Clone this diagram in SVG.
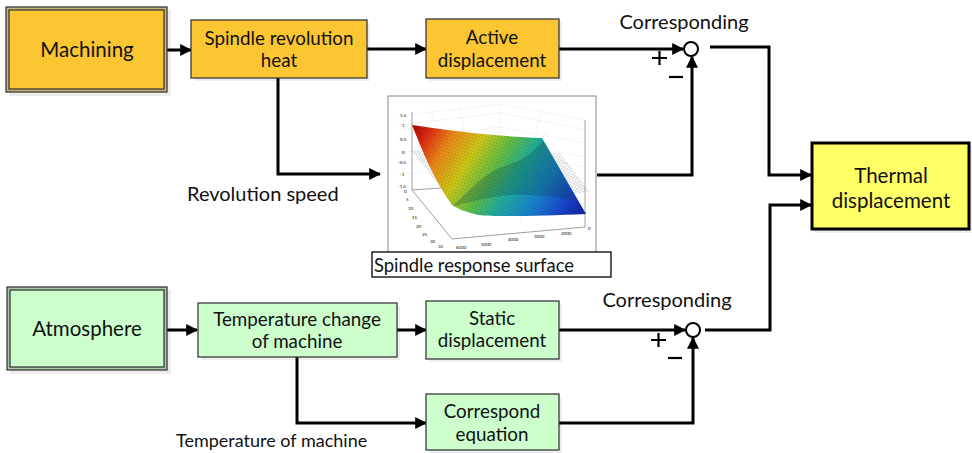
<svg xmlns="http://www.w3.org/2000/svg" width="972" height="453" viewBox="0 0 972 453">
  <defs>
    <style>
      text { font-family: "Lato", "Liberation Sans", sans-serif; fill: #111; }
      .t18 { font-size: 18.8px; text-anchor: middle; }
      .t20 { font-size: 20.5px; text-anchor: middle; }
      .lbl { font-size: 20px; }
      .cap { font-size: 18.4px; }
      .sm { font-size: 18px; }
      .orange { fill: #FCC633; stroke: #3a3a3a; stroke-width: 1.3; }
      .green { fill: #CCFFCC; stroke: #3a3a3a; stroke-width: 1.3; }
      .shadow { fill: #000; opacity: 0.07; }
      .wire { fill: none; stroke: #000; stroke-width: 3; }
      .arr { marker-end: url(#head); }
      .sum { fill: #fff; stroke: #000; stroke-width: 2; }
      .sign { stroke: #000; stroke-width: 2.2; }
      .tick { font-family: "Liberation Sans", sans-serif; font-size: 4.5px; fill: #555; }
      .grid { stroke: #c8c8c8; stroke-width: 0.5; stroke-dasharray: 1 1.5; fill: none; }
      .axis { stroke: #777; stroke-width: 0.7; fill: none; }
    </style>
    <marker id="head" viewBox="0 0 10 10" refX="9" refY="5" markerWidth="4" markerHeight="4" markerUnits="strokeWidth" orient="auto">
      <path d="M0,0 L10,5 L0,10 z" fill="#000"/>
    </marker>
    <linearGradient id="jet" x1="412" y1="120" x2="575" y2="222" gradientUnits="userSpaceOnUse">
      <stop offset="0" stop-color="#a00000"/>
      <stop offset="0.1" stop-color="#e02810"/>
      <stop offset="0.22" stop-color="#f08a18"/>
      <stop offset="0.36" stop-color="#d0cc18"/>
      <stop offset="0.5" stop-color="#60c048"/>
      <stop offset="0.62" stop-color="#20b0a0"/>
      <stop offset="0.76" stop-color="#1888d0"/>
      <stop offset="0.9" stop-color="#1848d0"/>
      <stop offset="1" stop-color="#1428a8"/>
    </linearGradient>
    <pattern id="mesh" width="3" height="3" patternUnits="userSpaceOnUse" patternTransform="rotate(18)">
      <path d="M0,0 H3 M0,0 V3" stroke="#000" stroke-width="0.4" opacity="0.4"/>
    </pattern>
    <pattern id="hatch" width="2.5" height="2.5" patternUnits="userSpaceOnUse" patternTransform="rotate(28)">
      <path d="M0,0 H2.5 M0,0 V2.5" stroke="#888" stroke-width="0.45"/>
    </pattern>
    <clipPath id="surfClip">
      <path d="M412,125 C440,129 485,136 542,138 L586,214 C540,216 495,217 478,215 C466,212 458,209 452,205 C434,180 422,150 412,125 z"/>
    </clipPath>
  </defs>

  <!-- connectors -->
  <g id="connectors">
    <path class="wire arr" d="M167,50 H191"/>
    <path class="wire arr" d="M367,49 H426"/>
    <path class="wire arr" d="M278,78 V174 H380"/>
    <path class="wire arr" d="M559,49 H683"/>
    <path class="wire arr" d="M597,175 H692 V57"/>
    <path class="wire arr" d="M710,47 H769 V175 H811"/>
    <path class="wire arr" d="M705,330 H770 V205 H811"/>
    <path class="wire arr" d="M167,330 H197"/>
    <path class="wire arr" d="M397,330 H426"/>
    <path class="wire arr" d="M297,357 V423 H426"/>
    <path class="wire arr" d="M559,330 H685"/>
    <path class="wire arr" d="M559,423 H693 V338"/>
  </g>

  <!-- upper chain -->
  <g id="machining">
    <rect class="shadow" x="9" y="10" width="162" height="86"/>
    <rect x="6" y="7" width="161" height="85" fill="#c9b377" stroke="#3a3a3a" stroke-width="1.3"/>
    <rect x="9" y="10" width="155" height="79" class="orange"/>
    <text class="t20" x="87" y="57">Machining</text>
  </g>

  <g id="spindle-heat">
    <rect class="shadow" x="194" y="23" width="176" height="58"/>
    <rect class="orange" x="191" y="20" width="176" height="58"/>
    <text class="t18" x="279" y="45">Spindle revolution</text>
    <text class="t18" x="279" y="67">heat</text>
  </g>

  <g id="active-displacement">
    <rect class="shadow" x="429" y="22" width="133" height="59"/>
    <rect class="orange" x="426" y="19" width="133" height="59"/>
    <text class="t18" x="492" y="44">Active</text>
    <text class="t18" x="492" y="67">displacement</text>
  </g>

  <g id="sum-upper">
    <text class="lbl" x="684" y="29" text-anchor="middle">Corresponding</text>
    <circle class="sum" cx="691" cy="49" r="7"/>
    <path class="sign" d="M652,58 H667 M659.5,51 V65"/>
    <path class="sign" d="M669,77 H683"/>
  </g>

  <!-- response surface plot -->
  <g id="response-surface">
    <rect x="388" y="96" width="208" height="165" fill="#fff" stroke="#9a9a9a" stroke-width="1.2"/>
    <!-- back walls -->
    <path class="grid" d="M398,116 L500,104 L584,120 M398,125 L500,113 L584,129 M398,139 L500,127 L584,143 M398,153 L500,141 L584,157 M398,163 L500,151 L584,167 M398,175 L500,163 L584,179"/>
    <path class="grid" d="M500,104 V190 M430,112 L470,200 M540,112 L520,222 M460,108 L480,210"/>
    <path class="axis" d="M412,112 V190 L452,239 L585,227 M412,190 L500,184 M585,227 V120"/>
    <!-- gray planes -->
    <polygon points="412,151 436,150 462,183 440,187" fill="url(#hatch)" opacity="0.9"/>
    <polygon points="540,154 560,153 590,192 570,194" fill="url(#hatch)" opacity="0.9"/>
    <!-- surface -->
    <g clip-path="url(#surfClip)">
      <rect x="405" y="118" width="190" height="105" fill="url(#jet)"/>
      <path d="M452,207 C470,190 485,172 505,166 C525,160 535,150 545,139 L575,200 C550,196 520,193 500,196 C480,199 465,203 452,207 z" fill="#0a3a40" opacity="0.25"/>
      <rect x="405" y="118" width="190" height="105" fill="url(#mesh)"/>
    </g>
    <!-- tick labels -->
    <g class="tick">
      <text x="400" y="117">1.5</text>
      <text x="402" y="127">1</text>
      <text x="400" y="141">0.5</text>
      <text x="402" y="154">0</text>
      <text x="398" y="164">-0.5</text>
      <text x="400" y="176">-1</text>
      <text x="398" y="188">-1.5</text>
      <text x="404" y="193">0</text>
      <text x="406" y="201">5</text>
      <text x="408" y="210">10</text>
      <text x="412" y="219">15</text>
      <text x="416" y="228">20</text>
      <text x="422" y="236">25</text>
      <text x="430" y="243">30</text>
      <text x="438" y="248">35</text>
      <text x="456" y="249">6000</text>
      <text x="481" y="246">5000</text>
      <text x="508" y="241">4000</text>
      <text x="534" y="238">3000</text>
      <text x="561" y="235">2000</text>
      <text x="588" y="230">0</text>
    </g>
  </g>

  <g id="surface-caption">
    <rect x="372" y="252" width="239" height="25" fill="#fff" stroke="#000" stroke-width="1.3"/>
    <text class="cap" x="374" y="272">Spindle response surface</text>
  </g>

  <text class="lbl" x="187" y="201">Revolution speed</text>

  <g id="thermal-displacement">
    <rect class="shadow" x="815" y="146" width="157" height="87"/>
    <rect x="812" y="143" width="157" height="86" fill="#FFFF66" stroke="#000" stroke-width="3"/>
    <text class="t20" x="891" y="183">Thermal</text>
    <text class="t20" x="891" y="208">displacement</text>
  </g>

  <!-- lower chain -->
  <g id="atmosphere">
    <rect class="shadow" x="10" y="290" width="161" height="84"/>
    <rect x="7" y="287" width="160" height="83" fill="#a8c8a8" stroke="#3a3a3a" stroke-width="1.3"/>
    <rect x="10" y="290" width="154" height="77" class="green"/>
    <text class="t20" x="87" y="336">Atmosphere</text>
  </g>

  <g id="temperature-change">
    <rect class="shadow" x="201" y="306" width="199" height="54"/>
    <rect class="green" x="198" y="303" width="199" height="54"/>
    <text class="t18" x="297" y="326">Temperature change</text>
    <text class="t18" x="297" y="348">of machine</text>
  </g>

  <g id="static-displacement">
    <rect class="shadow" x="429" y="304" width="133" height="58"/>
    <rect class="green" x="426" y="301" width="133" height="58"/>
    <text class="t18" x="492" y="325">Static</text>
    <text class="t18" x="492" y="347">displacement</text>
  </g>

  <g id="sum-lower">
    <text class="lbl" x="667" y="307" text-anchor="middle">Corresponding</text>
    <circle class="sum" cx="693" cy="330" r="7"/>
    <path class="sign" d="M651,340 H666 M658.5,333 V347"/>
    <path class="sign" d="M668,358 H682"/>
  </g>

  <g id="correspond-equation">
    <rect class="shadow" x="429" y="397" width="133" height="56"/>
    <rect class="green" x="426" y="394" width="133" height="56"/>
    <text class="t18" x="492" y="418">Correspond</text>
    <text class="t18" x="492" y="441">equation</text>
  </g>

  <text class="sm" x="176" y="447">Temperature of machine</text>
</svg>
